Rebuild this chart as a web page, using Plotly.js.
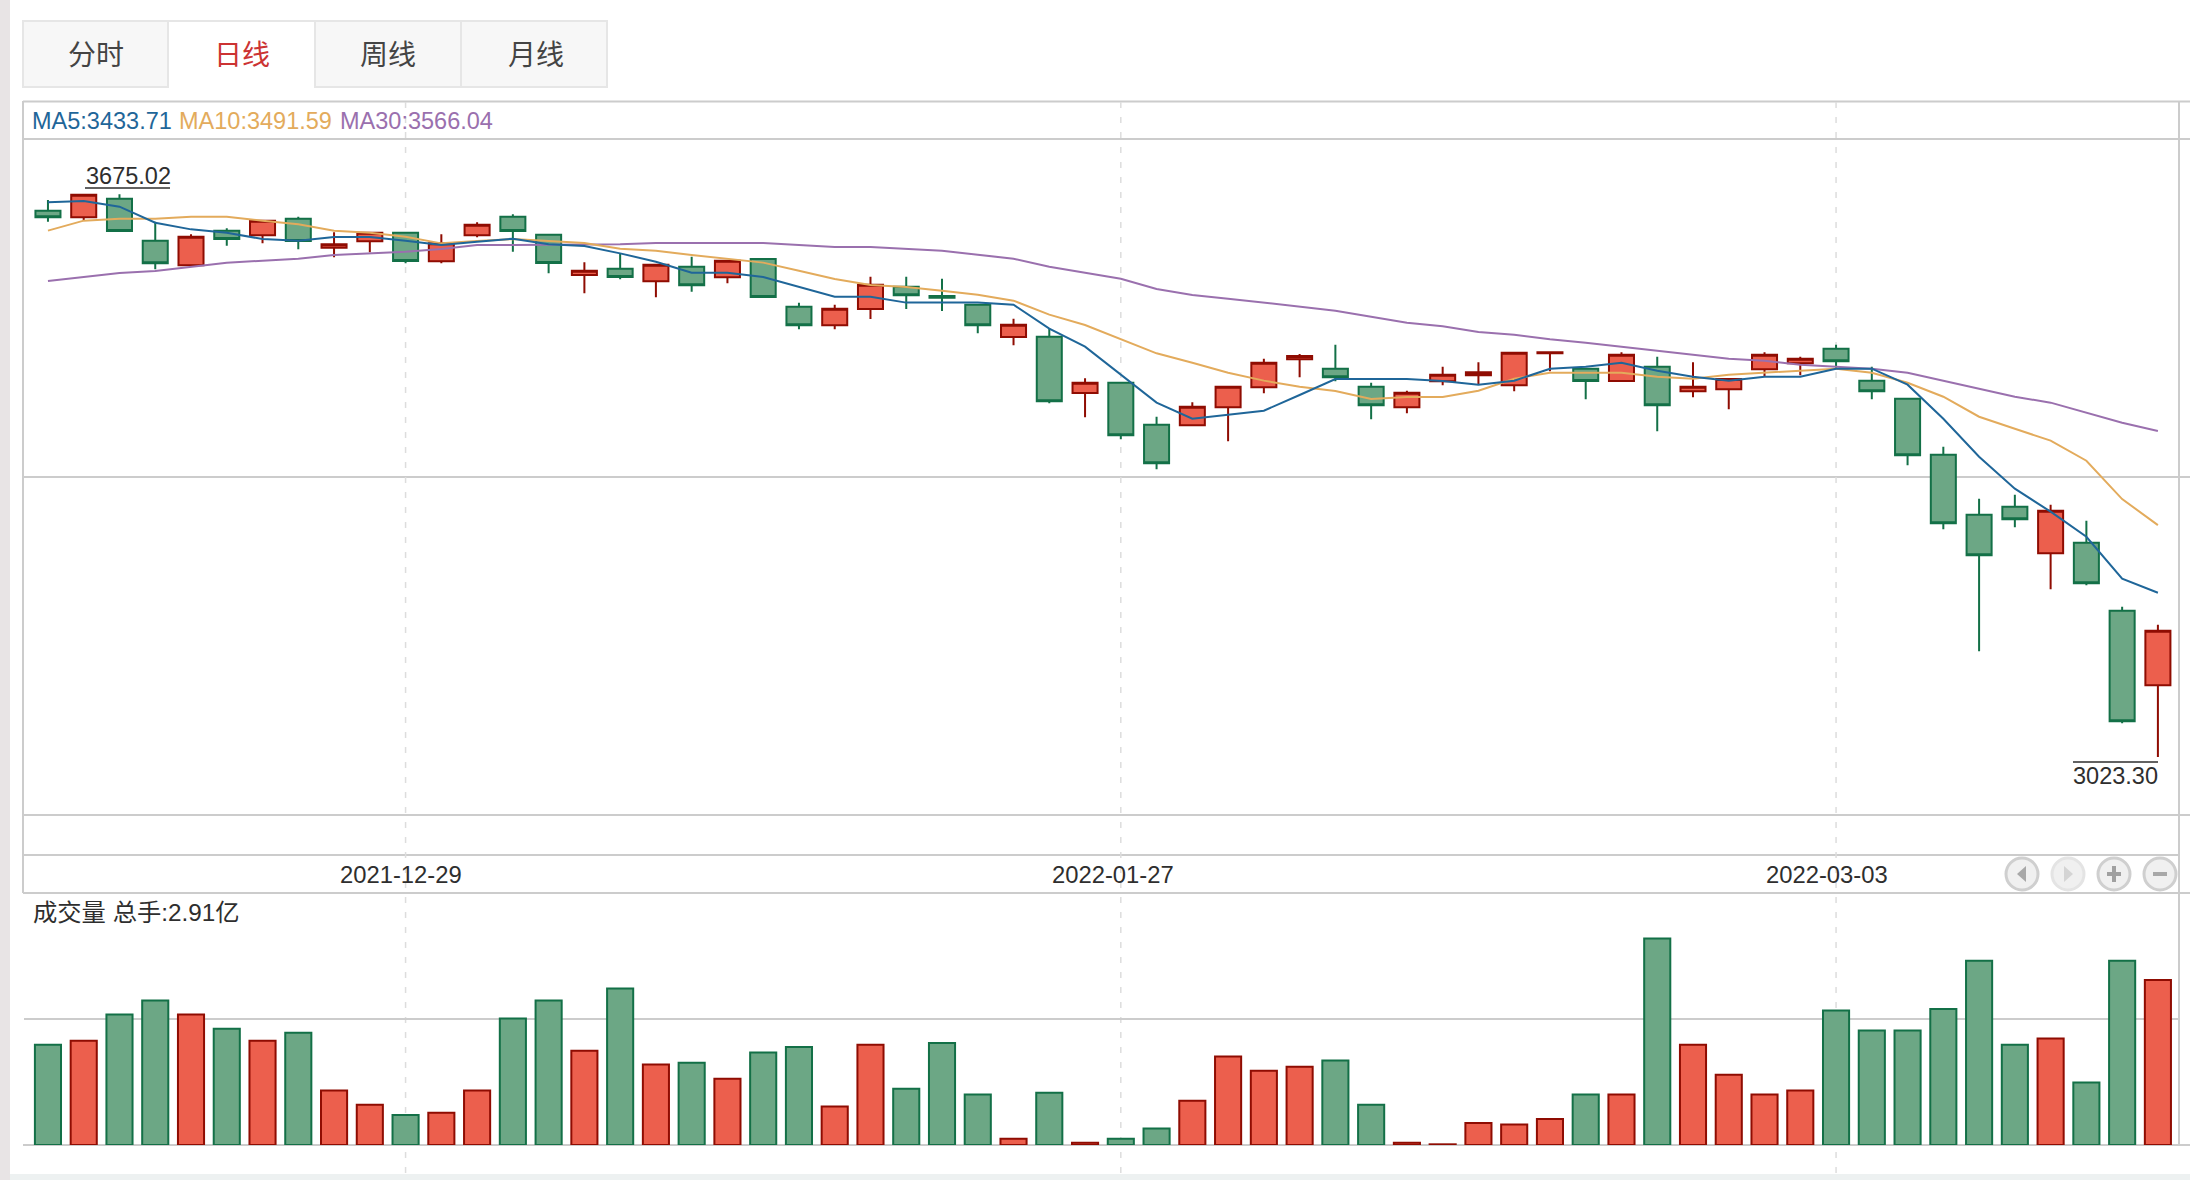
<!DOCTYPE html>
<html><head><meta charset="utf-8">
<script src="https://cdn.plot.ly/plotly-3.0.1.min.js"></script>
<style>html,body{margin:0;padding:0;background:#fff;overflow:hidden}#c{width:2190px;height:1180px}</style>
</head><body><div id="c"></div>
<script>
const tabNames = ['分时','日线','周线','月线'];
const tickIndex = [10,30,50];
const tickLabels = ['2021-12-29','2022-01-27','2022-03-03'];
const maLabels = ['MA5:3433.71','MA10:3491.59','MA30:3566.04'];
const volumeLabel = '成交量 总手:2.91亿';
const maxLabel = '3675.02';
const minLabel = '3023.30';

const open = [3655.7,3648.1,3669.6,3621.0,3592.5,3632.5,3627.2,3646.4,3612.9,3620.2,
3630.2,3597.1,3627.2,3648.7,3627.9,3581.3,3588.5,3574.0,3590.9,3578.6,
3599.8,3544.6,3523.0,3541.9,3567.7,3557.0,3546.9,3509.5,3509.8,3444.7,
3456.6,3408.0,3407.3,3428.1,3451.3,3483.7,3472.8,3451.9,3428.1,3458.2,
3465.1,3453.6,3490.6,3472.8,3458.6,3475.1,3446.6,3449.0,3472.1,3479.0,
3496.0,3458.9,3438.1,3373.2,3303.8,3313.0,3259.1,3271.4,3192.6,3106.3];
const close = [3648.1,3674.2,3632.2,3594.8,3625.6,3622.9,3644.1,3620.6,3616.8,3630.2,
3597.5,3617.9,3639.5,3632.2,3595.2,3586.2,3578.9,3593.2,3569.3,3597.8,
3555.8,3523.0,3542.3,3570.0,3557.7,3555.0,3523.0,3523.7,3435.0,3456.6,
3395.7,3363.3,3428.8,3451.9,3479.7,3487.5,3462.8,3430.4,3445.0,3465.8,
3468.6,3491.3,3491.8,3458.6,3489.0,3430.4,3451.9,3460.9,3489.0,3484.4,
3481.4,3446.6,3372.5,3293.8,3256.8,3298.4,3308.4,3224.4,3064.6,3169.5];
const high = [3668.1,3675.02,3674.7,3643.0,3628.4,3635.3,3644.9,3648.7,3630.7,3630.2,
3630.2,3628.4,3642.3,3651.5,3627.9,3596.0,3606.4,3593.2,3602.4,3597.8,
3599.8,3549.2,3546.9,3579.3,3579.3,3577.0,3546.9,3530.7,3519.6,3461.7,
3456.6,3417.2,3433.9,3451.9,3484.4,3489.8,3500.6,3456.6,3447.3,3475.1,
3480.2,3491.3,3491.8,3472.8,3491.8,3486.7,3480.2,3460.9,3491.8,3486.7,
3500.6,3475.1,3438.1,3382.5,3322.3,3326.9,3315.4,3296.8,3197.3,3176.4];
const low = [3643.0,3644.1,3632.2,3587.9,3592.5,3615.2,3617.9,3611.0,3601.7,3607.5,
3594.8,3594.8,3624.9,3608.2,3583.2,3560.1,3576.3,3555.4,3561.9,3571.7,
3555.8,3518.4,3518.4,3530.3,3541.9,3539.6,3513.8,3499.9,3432.7,3416.5,
3391.1,3356.3,3407.3,3388.7,3444.3,3462.8,3458.2,3414.2,3421.2,3453.6,
3455.1,3446.6,3469.8,3437.4,3458.6,3400.3,3439.7,3425.8,3463.5,3465.2,
3473.3,3437.4,3361.0,3286.9,3145.7,3289.2,3217.4,3222.1,3062.3,3023.3];
const ma5 = [3665.4,3666.9,3660.4,3641.8,3634.1,3630.3,3622.9,3621.0,3625.2,3625.2,
3621.0,3616.0,3619.8,3623.3,3616.8,3614.8,3606.3,3596.7,3583.9,3583.9,
3579.0,3567.4,3556.2,3556.2,3549.3,3549.3,3549.3,3546.9,3519.2,3498.3,
3465.5,3433.5,3415.0,3419.2,3424.2,3442.4,3460.9,3460.9,3460.9,3458.6,
3454.3,3458.9,3472.8,3475.1,3479.8,3470.5,3463.5,3458.9,3463.5,3463.5,
3472.8,3472.8,3454.3,3414.9,3370.9,3333.9,3307.3,3278.3,3229.7,3213.5];
const ma10 = [3632.6,3644.2,3646.5,3646.5,3648.8,3648.8,3644.2,3639.9,3632.6,3630.3,
3625.6,3617.9,3620.6,3622.9,3620.6,3618.3,3611.7,3609.4,3604.4,3599.8,
3595.6,3586.3,3576.6,3569.7,3567.4,3563.1,3558.5,3551.6,3535.4,3523.4,
3506.8,3490.6,3479.8,3468.2,3459.0,3452.0,3447.0,3437.7,3440.0,3440.0,
3447.3,3461.2,3468.2,3468.2,3468.2,3463.5,3461.2,3465.9,3468.2,3470.5,
3472.8,3468.2,3456.6,3440.4,3417.2,3403.3,3389.5,3366.3,3321.9,3291.8];
const ma30 = [3574.3,3578.9,3583.6,3585.9,3590.9,3595.5,3597.8,3600.2,3604.4,3606.3,
3608.3,3611.4,3616.0,3616.0,3616.0,3616.0,3616.8,3618.3,3618.3,3618.3,
3618.3,3616.0,3613.7,3613.7,3611.8,3609.4,3604.8,3600.2,3590.9,3584.0,
3577.0,3565.1,3558.1,3553.9,3549.3,3544.6,3540.0,3533.0,3526.1,3521.9,
3515.3,3512.2,3506.8,3502.9,3498.3,3493.6,3489.0,3484.4,3482.1,3477.4,
3475.1,3472.8,3468.2,3458.9,3449.7,3440.4,3433.5,3421.9,3410.3,3400.7];
const volume = [1.77,1.84,2.30,2.55,2.30,2.05,1.84,1.98,0.96,0.71,
0.53,0.57,0.96,2.23,2.55,1.66,2.76,1.42,1.45,1.17,
1.63,1.73,0.68,1.77,0.99,1.80,0.89,0.11,0.92,0.04,
0.11,0.29,0.78,1.56,1.31,1.38,1.49,0.71,0.04,0.012,
0.39,0.36,0.46,0.89,0.89,3.64,1.77,1.24,0.89,0.96,
2.37,2.02,2.02,2.40,3.25,1.77,1.88,1.10,3.25,2.91];

const W=2190,H=1180;
const X=p=>p/W, Y=p=>1-p/H;
const idx=open.map((_,i)=>i);
const RED='#ec5f4d',REDL='#8f0c02',GRN='#6ca785',GRNL='#137047';
const BLUE='#1f6699',ORG='#e3ab5c',PUR='#9a70ae';
const GRID='#cccccc',TXT='#2e2e2e';
const FONT='"Liberation Sans","Noto Sans CJK SC",sans-serif';
const up=idx.map(i=>close[i]>=open[i]);
const xr=[-0.67,59.59];

const ma=(y,c,n)=>({type:'scatter',mode:'lines',x:idx,y:y,name:n,xaxis:'x',yaxis:'y',line:{color:c,width:2},hoverinfo:'skip'});
const traces=[
 {type:'candlestick',x:idx,open:open,high:high,low:low,close:close,xaxis:'x',yaxis:'y',
  increasing:{line:{color:REDL,width:2},fillcolor:RED},
  decreasing:{line:{color:GRNL,width:2},fillcolor:GRN},whiskerwidth:0,showlegend:false},
 ma(ma30,PUR,'MA30'),ma(ma10,ORG,'MA10'),ma(ma5,BLUE,'MA5'),
 {type:'bar',x:idx,y:volume,xaxis:'x2',yaxis:'y2',width:0.73,
  marker:{color:up.map(u=>u?RED:GRN),line:{color:up.map(u=>u?REDL:GRNL),width:2}}}
];

const shapes=[];
const rect=(x0,y0,x1,y1,fill,line,w,layer)=>shapes.push({type:'rect',xref:'paper',yref:'paper',x0:X(x0),x1:X(x1),y0:Y(y0),y1:Y(y1),fillcolor:fill,line:{color:line||'rgba(0,0,0,0)',width:w===undefined?0:w},layer:layer||'below'});
const hline=(y,x0,x1,c,w,layer)=>shapes.push({type:'line',xref:'paper',yref:'paper',x0:X(x0),x1:X(x1),y0:Y(y),y1:Y(y),line:{color:c||GRID,width:w||2},layer:layer||'below'});
const vline=(x,y0,y1,c,w,layer)=>shapes.push({type:'line',xref:'paper',yref:'paper',x0:X(x),x1:X(x),y0:Y(y0),y1:Y(y1),line:{color:c||GRID,width:w||2},layer:layer||'below'});

// page chrome
rect(0,0,10,H,'#e8e4e5');
rect(10,1174,W,H,'#edf1f1');
// tabs
[[23,168],[168,315],[315,461],[461,607]].forEach((t,i)=>{
  if(i===1){ hline(21,t[0],t[1],'#e6e6e6',2); }
  else rect(t[0],21,t[1],87,'#f7f7f7','#e6e6e6',2);
});
// frame
[101.5,139,477,815,855,893].forEach(y=>hline(y,23,y===855?2179:W));
vline(23,101,893);
vline(2179,101,1145);
hline(1145,23,W);
// dashed verticals
tickIndex.forEach(t=>shapes.push({type:'line',xref:'x',yref:'paper',x0:t,x1:t,y0:Y(102),y1:Y(1174),line:{color:'#dddddd',width:1.5,dash:'6px,9px'},layer:'below'}));
// extreme label rules
hline(188,85,170,TXT,1.5,'above');
hline(762,2073,2158,TXT,1.5,'above');
// zoom buttons
[[2022,'#cfcfcf','#a8a8a8'],[2068,'#e4e4e4','#d4d4d4'],[2114,'#cfcfcf','#a0a0a0'],[2160,'#cfcfcf','#a8a8a8']].forEach((b,i)=>{
  const cx=b[0],cy=874,r=16;
  shapes.push({type:'circle',xref:'paper',yref:'paper',x0:X(cx-r),x1:X(cx+r),y0:Y(cy-r),y1:Y(cy+r),fillcolor:'#f0f0f0',line:{color:b[1],width:3},layer:'above'});
  const P=(a,c)=>`${X(a)},${Y(c)}`;
  if(i===0) shapes.push({type:'path',xref:'paper',yref:'paper',path:`M${P(cx+4,cy-8)}L${P(cx-5,cy)}L${P(cx+4,cy+8)}Z`,fillcolor:b[2],line:{width:0},layer:'above'});
  if(i===1) shapes.push({type:'path',xref:'paper',yref:'paper',path:`M${P(cx-4,cy-8)}L${P(cx+5,cy)}L${P(cx-4,cy+8)}Z`,fillcolor:b[2],line:{width:0},layer:'above'});
  if(i>=2) hline(cy,cx-7,cx+7,b[2],4,'above');
  if(i===2) vline(cx,cy-8,cy+8,b[2],4,'above');
});

const ann=[];
const SZ=23.5;
const txt=(s,x,y,opt)=>ann.push(Object.assign({text:s,xref:'paper',yref:'paper',x:X(x),y:Y(y),xanchor:'left',yanchor:'middle',showarrow:false,borderpad:0,font:{family:FONT,size:SZ,color:TXT}},opt||{}));
const tabC=[96,242,387.5,535.5];
tabNames.forEach((n,i)=>txt(n,tabC[i],53,{xanchor:'center',font:{family:'"Noto Sans CJK SC",sans-serif',size:28,color:i===1?'#cc3333':'#444444'}}));
const maCols=[BLUE,ORG,PUR],maX=[31,178,339];
maLabels.forEach((s,i)=>txt(s,maX[i],121,{font:{family:FONT,size:SZ,color:maCols[i]}}));
txt(maxLabel,85,176);
txt(minLabel,2072,776);
txt(volumeLabel,32,912,{font:{family:FONT,size:24.3,color:TXT}});
const shift=[-4.6,-8,-9.5];
tickLabels.forEach((s,i)=>ann.push({text:s,xref:'x',yref:'paper',x:tickIndex[i],y:Y(874),xanchor:'center',yanchor:'middle',xshift:shift[i],showarrow:false,borderpad:0,font:{family:FONT,size:23.8,color:TXT}}));

const hiddenX={range:xr,domain:[X(24),X(2179)],showgrid:false,zeroline:false,showline:false,showticklabels:false,ticks:''};
const layout={
 width:W,height:H,margin:{l:0,r:0,t:0,b:0},paper_bgcolor:'#fff',plot_bgcolor:'rgba(0,0,0,0)',showlegend:false,
 boxgap:0.3,boxgroupgap:0,
 xaxis:Object.assign({anchor:'y',rangeslider:{visible:false}},hiddenX),
 xaxis2:Object.assign({anchor:'y2'},hiddenX),
 yaxis:{domain:[Y(815),Y(139)],range:[2956.2,3738.7],showgrid:false,zeroline:false,showline:false,showticklabels:false,ticks:''},
 yaxis2:{domain:[Y(1145),Y(893)],range:[0,4.444],tickvals:[2.222],gridcolor:GRID,gridwidth:2,showgrid:true,zeroline:false,showline:false,showticklabels:false,ticks:''},
 shapes:shapes,annotations:ann,font:{family:FONT,color:TXT}
};
Plotly.newPlot('c',traces,layout,{displayModeBar:false,staticPlot:true});
</script></body></html>
